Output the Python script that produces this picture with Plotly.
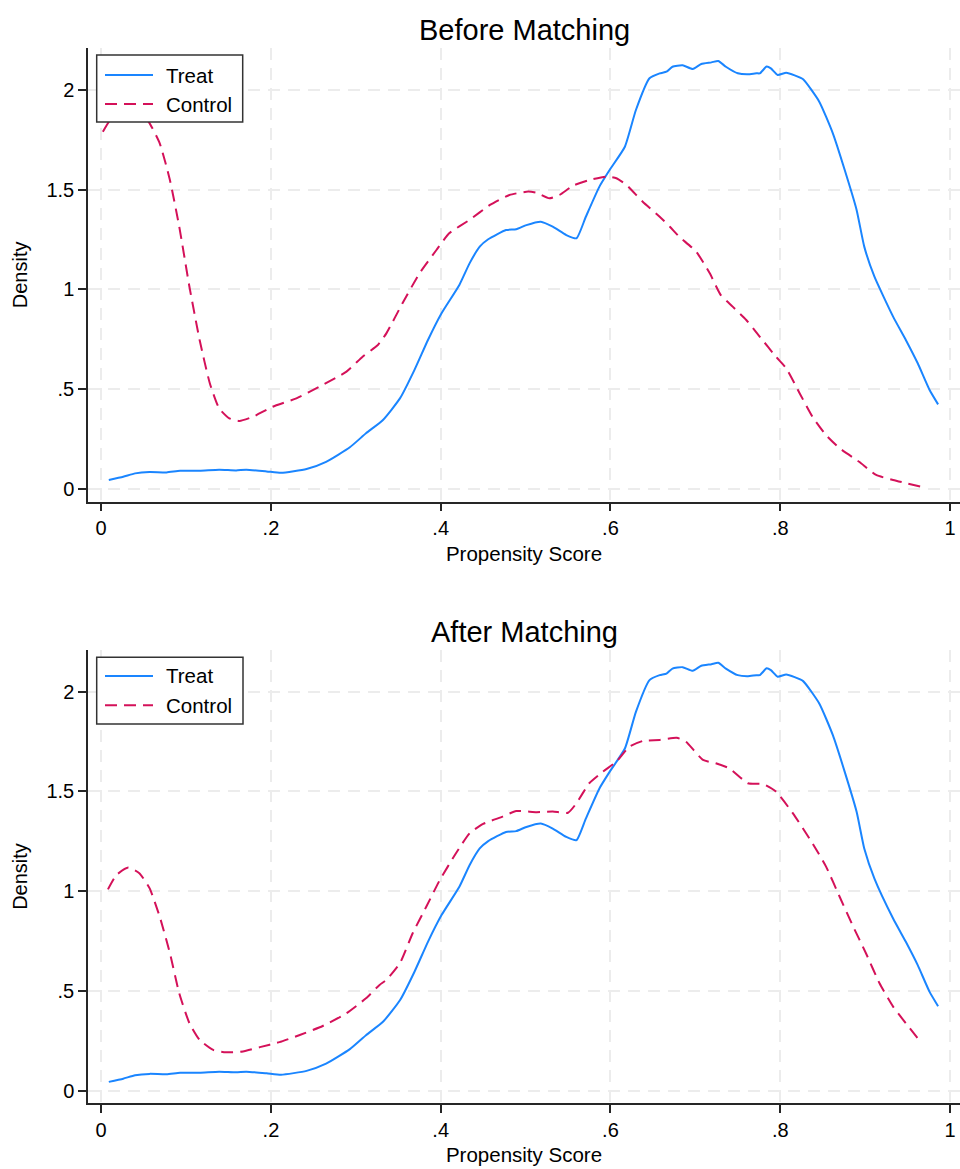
import plotly.graph_objects as go

# Kernel density estimates of the propensity score
treat_x = [0.009, 0.026, 0.040, 0.057, 0.077, 0.093, 0.116, 0.139, 0.159, 0.171, 0.195, 0.212,
           0.242, 0.265, 0.293, 0.312, 0.332, 0.352, 0.369, 0.385, 0.401, 0.422, 0.434, 0.446,
           0.456, 0.477, 0.489, 0.501, 0.518, 0.532, 0.548, 0.560, 0.571, 0.587, 0.599, 0.617,
           0.630, 0.646, 0.658, 0.666, 0.673, 0.685, 0.697, 0.707, 0.719, 0.727, 0.736, 0.750,
           0.762, 0.772, 0.776, 0.784, 0.789, 0.797, 0.807, 0.817, 0.827, 0.846, 0.862, 0.876,
           0.890, 0.899, 0.911, 0.933, 0.948, 0.962, 0.976, 0.986]
treat_y = [0.044, 0.060, 0.077, 0.084, 0.082, 0.090, 0.090, 0.095, 0.092, 0.095, 0.087, 0.080,
           0.099, 0.135, 0.208, 0.278, 0.345, 0.453, 0.595, 0.746, 0.880, 1.022, 1.130, 1.214,
           1.251, 1.297, 1.301, 1.322, 1.339, 1.314, 1.272, 1.256, 1.364, 1.515, 1.598, 1.715,
           1.899, 2.058, 2.083, 2.091, 2.116, 2.123, 2.105, 2.130, 2.138, 2.145, 2.116, 2.083,
           2.078, 2.083, 2.083, 2.117, 2.108, 2.075, 2.086, 2.073, 2.053, 1.941, 1.782, 1.598,
           1.398, 1.214, 1.063, 0.863, 0.746, 0.629, 0.495, 0.423]

ctrl_before_x = [0.002, 0.015, 0.030, 0.045, 0.056, 0.069, 0.081, 0.092, 0.104, 0.116, 0.128, 0.139,
                 0.151, 0.163, 0.179, 0.202, 0.230, 0.257, 0.289, 0.308, 0.326, 0.336, 0.355, 0.375,
                 0.395, 0.410, 0.434, 0.458, 0.481, 0.503, 0.513, 0.528, 0.540, 0.556, 0.575, 0.595,
                 0.607, 0.619, 0.638, 0.658, 0.670, 0.681, 0.701, 0.717, 0.730, 0.744, 0.760, 0.776,
                 0.795, 0.807, 0.823, 0.838, 0.854, 0.870, 0.893, 0.913, 0.933, 0.966]
ctrl_before_y = [1.790, 1.875, 1.905, 1.885, 1.840, 1.732, 1.548, 1.314, 1.013, 0.746, 0.529, 0.403,
                 0.353, 0.340, 0.361, 0.411, 0.453, 0.512, 0.587, 0.662, 0.721, 0.779, 0.930, 1.080,
                 1.197, 1.281, 1.348, 1.423, 1.473, 1.490, 1.484, 1.456, 1.473, 1.520, 1.548, 1.565,
                 1.557, 1.523, 1.439, 1.364, 1.314, 1.264, 1.189, 1.080, 0.971, 0.913, 0.846, 0.762,
                 0.662, 0.604, 0.478, 0.361, 0.269, 0.203, 0.135, 0.069, 0.044, 0.010]

ctrl_after_x = [0.008, 0.018, 0.032, 0.045, 0.057, 0.069, 0.081, 0.092, 0.104, 0.116, 0.132, 0.147,
                0.167, 0.187, 0.210, 0.234, 0.261, 0.289, 0.312, 0.328, 0.336, 0.352, 0.367, 0.383,
                0.399, 0.418, 0.434, 0.450, 0.473, 0.489, 0.513, 0.532, 0.550, 0.560, 0.575, 0.591,
                0.607, 0.622, 0.638, 0.658, 0.678, 0.689, 0.709, 0.724, 0.740, 0.762, 0.780, 0.795,
                0.815, 0.838, 0.854, 0.870, 0.886, 0.901, 0.917, 0.933, 0.948, 0.962]
ctrl_after_y = [1.009, 1.081, 1.118, 1.090, 1.015, 0.872, 0.689, 0.488, 0.338, 0.254, 0.204, 0.192,
                0.196, 0.218, 0.243, 0.279, 0.324, 0.388, 0.463, 0.530, 0.555, 0.639, 0.789, 0.922,
                1.056, 1.190, 1.290, 1.337, 1.374, 1.402, 1.396, 1.399, 1.393, 1.441, 1.541, 1.599,
                1.649, 1.724, 1.753, 1.758, 1.769, 1.749, 1.658, 1.641, 1.616, 1.541, 1.537, 1.499,
                1.390, 1.240, 1.123, 0.972, 0.822, 0.689, 0.538, 0.421, 0.338, 0.263]

x_ticks = [0, 0.2, 0.4, 0.6, 0.8, 1]
x_tick_text = ["0", ".2", ".4", ".6", ".8", "1"]
y_ticks = [0, 0.5, 1, 1.5, 2]
y_tick_text = ["0", ".5", "1", "1.5", "2"]

panel_titles = ["Before Matching", "After Matching"]
series_names = ["Treat", "Control"]

TREAT_COLOR = "#1a85ff"
CTRL_COLOR = "#d41159"
FONT = "Liberation Sans, Arial, sans-serif"
CTRL_DASH = "12px,7px"

# page geometry (pixels)
W, H = 960, 1169
ML, MR, MT, MB = 88, 0, 48, 66


def px(xp):
    return (xp - ML) / (W - ML - MR)


def py(yp):
    return (H - MB - yp) / (H - MT - MB)


fig = go.Figure()

panels = [
    dict(xa="x", ya="y", ctrl_x=ctrl_before_x, ctrl_y=ctrl_before_y),
    dict(xa="x2", ya="y2", ctrl_x=ctrl_after_x, ctrl_y=ctrl_after_y),
]
for p in panels:
    fig.add_trace(go.Scatter(x=treat_x, y=treat_y, mode="lines", name=series_names[0],
                             line=dict(color=TREAT_COLOR, width=2, shape="spline", smoothing=0.5),
                             xaxis=p["xa"], yaxis=p["ya"], showlegend=False))
    fig.add_trace(go.Scatter(x=p["ctrl_x"], y=p["ctrl_y"], mode="lines", name=series_names[1],
                             line=dict(color=CTRL_COLOR, width=2, dash=CTRL_DASH,
                                       shape="spline", smoothing=0.5),
                             xaxis=p["xa"], yaxis=p["ya"], showlegend=False))

axis_common = dict(
    showline=True, linecolor="#262626", linewidth=1.5, mirror=False,
    ticks="outside", ticklen=8, tickwidth=1.5, tickcolor="#262626",
    showgrid=True, gridcolor="#ececec", gridwidth=1.5, griddash="12px,8px",
    zeroline=False, tickfont=dict(size=20, color="#000000", family=FONT),
)

x_common = dict(axis_common, tickmode="array", tickvals=x_ticks, ticktext=x_tick_text,
                range=[-0.0155, 1.0118],
                title=dict(text="Propensity Score", font=dict(size=20.5, color="#000000"),
                           standoff=8))
y_common = dict(axis_common, tickmode="array", tickvals=y_ticks, ticktext=y_tick_text,
                title=dict(text="Density", font=dict(size=20, color="#000000"), standoff=13))

top_bottom_px, top_top_px = 501.7, 48
bot_bottom_px, bot_top_px = 1103, 650

fig.update_layout(
    width=W, height=H,
    margin=dict(l=ML, r=MR, t=MT, b=MB, autoexpand=False),
    paper_bgcolor="white", plot_bgcolor="white",
    font=dict(family=FONT, color="#000000"),
    showlegend=False,
    xaxis=dict(x_common, domain=[0, 1], anchor="y"),
    yaxis=dict(y_common, domain=[py(top_bottom_px), 1], anchor="x", range=[-0.065, 2.21]),
    xaxis2=dict(x_common, domain=[0, 1], anchor="y2"),
    yaxis2=dict(y_common, domain=[0, py(bot_top_px)], anchor="x2", range=[-0.062, 2.209]),
)

# panel titles
for title, ty in zip(panel_titles, [30, 632]):
    fig.add_annotation(text=title, xref="paper", yref="paper", x=0.5, y=py(ty),
                       xanchor="center", yanchor="middle", showarrow=False,
                       font=dict(size=29, color="#000000", family=FONT))

# legend boxes drawn inside each panel
legend_specs = [
    dict(box=(96.7, 55, 242.7, 122), rows=(75, 104)),
    dict(box=(96.7, 657.3, 243, 724), rows=(676, 705.3)),
]
for spec in legend_specs:
    x0, y0, x1, y1 = spec["box"]
    fig.add_shape(type="rect", xref="paper", yref="paper",
                  x0=px(x0), x1=px(x1), y0=py(y1), y1=py(y0),
                  line=dict(color="#333333", width=1.5), fillcolor="white", layer="above")
    styles = [dict(color=TREAT_COLOR, width=2), dict(color=CTRL_COLOR, width=2, dash=CTRL_DASH)]
    for name, ry, st in zip(series_names, spec["rows"], styles):
        fig.add_shape(type="line", xref="paper", yref="paper",
                      x0=px(105), x1=px(153), y0=py(ry), y1=py(ry),
                      line=st, layer="above")
        fig.add_annotation(text=name, xref="paper", yref="paper", x=px(164), y=py(ry),
                           xanchor="left", yanchor="middle", showarrow=False,
                           font=dict(size=20.5, color="#000000", family=FONT))

fig.write_html("out.html")
